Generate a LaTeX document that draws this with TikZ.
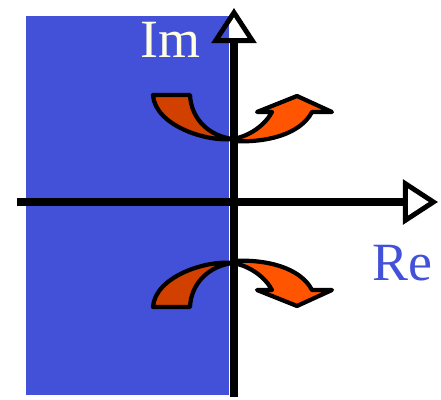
\documentclass[tikz,border=0pt]{standalone}
\usepackage{fontspec}
\setmainfont{Liberation Serif}
\usepackage{xcolor}
\usetikzlibrary{arrows.meta,positioning}

\definecolor{planeblue}{RGB}{67,80,216}
\definecolor{labelivory}{RGB}{255,255,228}
\definecolor{darkorange}{RGB}{210,64,0}
\definecolor{brightorange}{RGB}{255,85,0}

\tikzset{
  axis/.style={line width=7.5pt, -{Triangle[open, length=30pt, width=38pt, line width=4.2pt]}},
  halfturn/.style={draw=black, line width=3.6pt, line join=round},
  axislabel/.style={inner sep=0pt, font=\fontsize{46}{50}\selectfont}
}

\begin{document}
\begin{tikzpicture}[x=0.03cm, y=-0.03cm]
      \useasboundingbox (0,0) rectangle (441,400);

      % Left half-plane
      \fill[planeblue] (26,16) rectangle (229,395);

      % Upper pair
      \fill[darkorange, halfturn] (153,95) -- (190,95)
        .. controls (191,118) and (208,136) .. (233,139)
        .. controls (205,142) and (155,125) .. (153,95) -- cycle;
      \fill[brightorange, halfturn] (233,139)
        .. controls (250,136) and (265,125) .. (272,112)
        -- (257,112) -- (297,96) -- (332,112) -- (312,112)
        .. controls (300,135) and (265,143) .. (233,141) -- cycle;

      % Lower pair
      \fill[darkorange, halfturn] (153,307) -- (190,307)
        .. controls (191,284) and (208,266) .. (233,263)
        .. controls (205,260) and (155,277) .. (153,307) -- cycle;
      \fill[brightorange, halfturn] (233,263)
        .. controls (250,266) and (265,277) .. (272,290)
        -- (257,290) -- (297,306) -- (332,290) -- (312,290)
        .. controls (300,267) and (265,259) .. (233,261) -- cycle;

      % Axes
      \coordinate (xstart) at (17,202);
      \coordinate (xend) at (438,202);
      \coordinate (ystart) at (234,397);
      \coordinate (yend) at (234,8);
      \draw[axis] (xstart) -- (xend);
      \draw[axis] (ystart) -- (yend);

      \node[axislabel, text=labelivory, anchor=base west] (imlabel) at (140,58) {Im};
      \node[axislabel, text=planeblue, anchor=base west] (relabel) at (372,281) {Re};
    \end{tikzpicture}
\end{document}
